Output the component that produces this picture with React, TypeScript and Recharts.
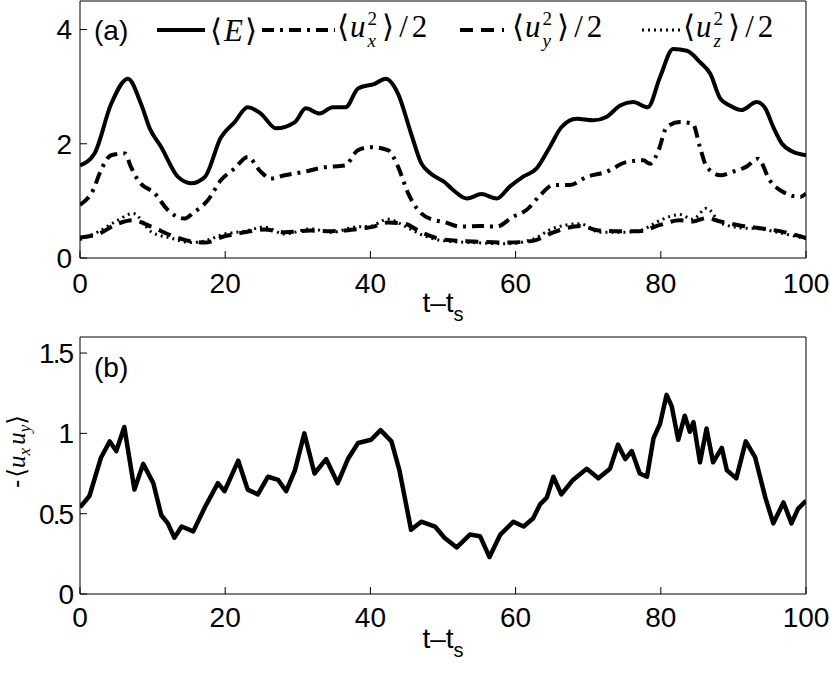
import React from "react";
import { LineChart, Line, XAxis, YAxis } from "recharts";

// panel (a): energy and velocity components
const tE = [0, 2, 4.3, 6.6, 8.4, 9.6, 11.2, 13.5, 15.3, 17.2, 19.4, 21.3, 23.1, 24.9, 27, 29.6, 31.1, 33, 34.8, 36.6, 38.3, 40.6, 42.1, 43.8, 45.6, 47, 48.3, 50.2, 51.4, 53.3, 55.3, 57.4, 59.2, 61, 62.9, 64.7, 66.3, 68.4, 70.7, 72.5, 74.4, 76.2, 78.2, 79.9, 81.7, 83.6, 85.4, 86.8, 88.2, 89.5, 91.1, 93.2, 94.3, 95.5, 96.7, 98.2, 100];
const vE = [1.62, 1.83, 2.7, 3.14, 2.7, 2.27, 1.94, 1.42, 1.31, 1.42, 2.11, 2.38, 2.64, 2.53, 2.27, 2.38, 2.62, 2.53, 2.64, 2.64, 2.97, 3.05, 3.14, 2.88, 2.18, 1.66, 1.48, 1.33, 1.19, 1.04, 1.12, 1.04, 1.25, 1.42, 1.57, 1.94, 2.29, 2.44, 2.41, 2.47, 2.67, 2.73, 2.64, 3.17, 3.66, 3.63, 3.43, 3.23, 2.79, 2.67, 2.59, 2.73, 2.64, 2.29, 2.0, 1.86, 1.8];

const tUx = [0, 1.8, 2.9, 4.3, 6.2, 7.0, 8.0, 10.3, 12.1, 14.4, 15.6, 17.6, 19.4, 21.3, 23.1, 24.9, 26.3, 28.2, 30.9, 33.7, 36.5, 38.3, 40.1, 42.4, 43.8, 45.2, 47.0, 48.9, 50.2, 52.3, 55.1, 57.4, 59.6, 61.5, 63.4, 65.2, 67.5, 69.8, 72.5, 75.3, 77.6, 78.5, 79.7, 80.8, 82.6, 84.4, 85.4, 86.3, 88.2, 89.9, 91.8, 93.4, 95.0, 96.8, 99.2, 100];
const vUx = [0.93, 1.19, 1.54, 1.8, 1.83, 1.6, 1.36, 1.13, 0.84, 0.69, 0.79, 1.01, 1.36, 1.57, 1.77, 1.51, 1.39, 1.45, 1.51, 1.59, 1.62, 1.89, 1.94, 1.89, 1.6, 1.13, 0.78, 0.66, 0.63, 0.55, 0.56, 0.55, 0.72, 0.84, 1.1, 1.28, 1.28, 1.42, 1.51, 1.68, 1.71, 1.65, 1.89, 2.29, 2.38, 2.35, 1.94, 1.6, 1.45, 1.51, 1.6, 1.74, 1.36, 1.16, 1.07, 1.13];

const tUyz = [0, 2.5, 5.2, 7.3, 9.8, 12.5, 15.3, 17.2, 19.9, 22.7, 25.4, 28.2, 31.8, 34.6, 37.8, 40.1, 42.4, 44.7, 47.0, 50.2, 54.2, 58.8, 62.4, 65.2, 68.9, 71.6, 74.4, 77.1, 79.9, 82.6, 84.4, 86.3, 88.2, 90.9, 93.7, 96.4, 99.2, 100];
const vUy = [0.36, 0.42, 0.6, 0.66, 0.55, 0.4, 0.29, 0.27, 0.38, 0.45, 0.5, 0.45, 0.48, 0.47, 0.5, 0.54, 0.62, 0.6, 0.45, 0.32, 0.29, 0.27, 0.3, 0.45, 0.56, 0.48, 0.47, 0.47, 0.58, 0.66, 0.64, 0.7, 0.64, 0.57, 0.52, 0.47, 0.38, 0.35];
const vUz = [0.32, 0.46, 0.66, 0.78, 0.46, 0.35, 0.27, 0.3, 0.42, 0.47, 0.54, 0.42, 0.51, 0.45, 0.54, 0.56, 0.68, 0.56, 0.41, 0.3, 0.27, 0.25, 0.33, 0.52, 0.6, 0.45, 0.45, 0.48, 0.66, 0.76, 0.68, 0.87, 0.62, 0.53, 0.51, 0.44, 0.36, 0.34];

// panel (b): -<ux uy>
const tUxUy = [0, 1.3, 2.9, 4.1, 5.0, 6.1, 6.6, 7.5, 8.7, 10.1, 11.2, 12.1, 13.0, 14.0, 15.6, 17.2, 19.0, 19.9, 21.8, 23.1, 24.5, 25.9, 27.3, 28.4, 29.6, 30.9, 32.3, 33.9, 35.5, 36.9, 38.3, 40.1, 41.4, 42.9, 44.0, 45.6, 47.0, 48.9, 50.2, 51.9, 53.7, 55.1, 56.4, 57.9, 59.7, 61.1, 62.4, 63.4, 64.3, 65.2, 66.3, 67.9, 69.8, 71.4, 73.0, 74.1, 75.1, 76.0, 77.1, 78.1, 79.0, 79.9, 80.8, 81.5, 82.4, 83.3, 84.0, 84.5, 85.4, 86.3, 87.2, 88.4, 89.1, 90.4, 91.7, 93.0, 94.4, 95.5, 96.9, 98.0, 98.9, 100];
const vUxUy = [0.54, 0.61, 0.85, 0.95, 0.89, 1.04, 0.9, 0.65, 0.81, 0.69, 0.49, 0.44, 0.35, 0.42, 0.39, 0.54, 0.69, 0.64, 0.83, 0.65, 0.62, 0.73, 0.71, 0.64, 0.77, 1.0, 0.75, 0.84, 0.69, 0.84, 0.94, 0.96, 1.02, 0.95, 0.77, 0.4, 0.45, 0.42, 0.35, 0.29, 0.37, 0.36, 0.23, 0.37, 0.45, 0.42, 0.47, 0.56, 0.6, 0.73, 0.62, 0.71, 0.78, 0.72, 0.78, 0.93, 0.84, 0.89, 0.75, 0.73, 0.97, 1.06, 1.24, 1.17, 0.96, 1.11, 1.01, 1.07, 0.82, 1.03, 0.82, 0.91, 0.77, 0.72, 0.95, 0.85, 0.6, 0.44, 0.57, 0.44, 0.53, 0.58];

const xTicks = [0, 20, 40, 60, 80, 100];
const yTicksA = [0, 2, 4];
const yTicksB = [0, 0.5, 1, 1.5];

const toPoints = (t: number[], v: number[]) => t.map((x, i) => ({ t: x, v: v[i] }));

const sans = "'Liberation Sans', Arial, Helvetica, sans-serif";
const serif = "'Liberation Serif', 'DejaVu Serif', 'Times New Roman', serif";
const tickStyle = { fill: "#000", fontSize: 28, fontFamily: sans };
const black = { stroke: "#000", strokeWidth: 1 };

const XLabel = (props: any) => {
  const vb = props.viewBox;
  return (
    <text x={vb.x + vb.width / 2} y={vb.y + 54} textAnchor="middle" fontFamily={sans} fontSize={28} fill="#000">
      t–t<tspan dy={9} fontSize={20}>s</tspan>
    </text>
  );
};

const YLabelB = (props: any) => {
  const vb = props.viewBox;
  const cy = vb.y + vb.height / 2 - 14;
  return (
    <text transform={`translate(25,${cy}) rotate(-90)`} textAnchor="middle" fontFamily={serif} fontSize={25} fill="#000">
      <tspan fontFamily={sans}>-</tspan>
      <tspan dx={2}>⟨</tspan><tspan fontStyle="italic">u</tspan>
      <tspan fontStyle="italic" fontSize={17} dy={5}>x</tspan>
      <tspan fontStyle="italic" dy={-5} dx={3}>u</tspan>
      <tspan fontStyle="italic" fontSize={17} dy={5}>y</tspan>
      <tspan dy={-5}>⟩</tspan>
    </text>
  );
};

const Stack = ({ sub }: { sub: string }) => (
  <span style={{ display: "inline-flex", flexDirection: "column", alignItems: "flex-start", fontSize: 19, lineHeight: "22px", verticalAlign: "middle", margin: "0 5px 0 2px" }}>
    <span>2</span>
    <span style={{ fontStyle: "italic" }}>{sub}</span>
  </span>
);

const legendItems = [
  { sub: "", dash: undefined as string | undefined, w: 4, x1: 157, x2: 205, tx: 210 },
  { sub: "x", dash: "12 6 3 6", w: 4, x1: 262, x2: 335, tx: 337 },
  { sub: "y", dash: "13 8", w: 4, x1: 460, x2: 504, tx: 512 },
  { sub: "z", dash: "2 4", w: 3, x1: 642, x2: 681, tx: 683 },
];

function LegendA() {
  return (
    <div style={{ position: "absolute", left: 0, top: 0, width: 830, height: 60, fontFamily: serif, fontSize: 31, color: "#000" }}>
      <div style={{ position: "absolute", left: 94, top: 0, height: 62, display: "flex", alignItems: "center", fontFamily: sans, fontSize: 28 }}>(a)</div>
      <svg width={830} height={60} style={{ position: "absolute", left: 0, top: 0 }}>
        {legendItems.map((it, i) => (
          <line key={i} x1={it.x1} x2={it.x2} y1={30} y2={30} stroke="#000" strokeWidth={it.w} strokeDasharray={it.dash} />
        ))}
      </svg>
      {legendItems.map((it, i) => (
        <div key={i} style={{ position: "absolute", left: it.tx, top: 0, height: 60, display: "flex", alignItems: "center", whiteSpace: "nowrap" }}>
          {it.sub === "" ? (
            <span>⟨<i style={{ margin: "0 2px" }}>E</i>⟩</span>
          ) : (
            <span>
              ⟨<i style={{ marginLeft: 1 }}>u</i><Stack sub={it.sub} />⟩
              <span style={{ margin: "0 4px 0 5px" }}>/</span>2
            </span>
          )}
        </div>
      ))}
    </div>
  );
}

// mirrored axes give the closed box with inward ticks on all four sides
const boxAxes = (domain: number[], yTicks: number[]) => [
  <XAxis key="xt" xAxisId="top" orientation="top" type="number" dataKey="t" domain={[0, 100]} ticks={xTicks} interval={0} allowDataOverflow
    height={1} tickSize={-7} tick={false} axisLine={black} tickLine={black} />,
  <YAxis key="yr" yAxisId="right" orientation="right" type="number" domain={domain} ticks={yTicks} interval={0} allowDataOverflow
    width={1} tickSize={-7} tick={false} axisLine={black} tickLine={black} />,
];

export default function App() {
  const eData = toPoints(tE, vE);
  const uxData = toPoints(tUx, vUx);
  const uyData = toPoints(tUyz, vUy);
  const uzData = toPoints(tUyz, vUz);
  const bData = toPoints(tUxUy, vUxUy);

  return (
    <div style={{ position: "absolute", left: 0, top: 0, width: 830, height: 673, background: "#fff" }}>
      <div style={{ position: "absolute", left: 0, top: 0 }}>
        <LineChart width={830} height={330} margin={{ top: 0, right: 23, left: 0, bottom: 0 }}>
          <XAxis type="number" dataKey="t" domain={[0, 100]} ticks={xTicks} interval={0} allowDataOverflow
            height={72} tickSize={-7} tickMargin={22} axisLine={black} tickLine={black} tick={tickStyle} label={<XLabel />} />
          <YAxis type="number" domain={[0, 4.5]} ticks={yTicksA} interval={0} allowDataOverflow
            width={80} tickSize={-7} tickMargin={15} axisLine={black} tickLine={black} tick={tickStyle} />
          {boxAxes([0, 4.5], yTicksA)}
          <Line xAxisId="top" yAxisId="right" data={eData} dataKey="v" stroke="none" dot={false} legendType="none" isAnimationActive={false} />
          <Line data={uzData} dataKey="v" type="monotone" stroke="#000" strokeWidth={3} strokeDasharray="2 4" dot={false} isAnimationActive={false} />
          <Line data={uyData} dataKey="v" type="monotone" stroke="#000" strokeWidth={4} strokeDasharray="13 8" dot={false} isAnimationActive={false} />
          <Line data={uxData} dataKey="v" type="monotone" stroke="#000" strokeWidth={4} strokeDasharray="12 6 3 6" dot={false} isAnimationActive={false} />
          <Line data={eData} dataKey="v" type="monotone" stroke="#000" strokeWidth={4} dot={false} isAnimationActive={false} />
        </LineChart>
        <LegendA />
      </div>
      <div style={{ position: "absolute", left: 0, top: 320 }}>
        <LineChart width={830} height={353} margin={{ top: 16, right: 23, left: 0, bottom: 0 }}>
          <XAxis type="number" dataKey="t" domain={[0, 100]} ticks={xTicks} interval={0} allowDataOverflow
            height={79} tickSize={-7} tickMargin={20} axisLine={black} tickLine={black} tick={tickStyle} label={<XLabel />} />
          <YAxis type="number" domain={[0, 1.6]} ticks={yTicksB} interval={0} allowDataOverflow
            width={80} tickSize={-7} tickMargin={15} axisLine={black} tickLine={black} tick={{ ...tickStyle, letterSpacing: -2 }} label={<YLabelB />} />
          {boxAxes([0, 1.6], yTicksB)}
          <Line xAxisId="top" yAxisId="right" data={bData} dataKey="v" stroke="none" dot={false} legendType="none" isAnimationActive={false} />
          <Line data={bData} dataKey="v" type="linear" stroke="#000" strokeWidth={4.5} strokeLinejoin="round" dot={false} isAnimationActive={false} />
        </LineChart>
        <div style={{ position: "absolute", left: 94, top: 28, height: 40, display: "flex", alignItems: "center", fontFamily: sans, fontSize: 28 }}>(b)</div>
      </div>
    </div>
  );
}
